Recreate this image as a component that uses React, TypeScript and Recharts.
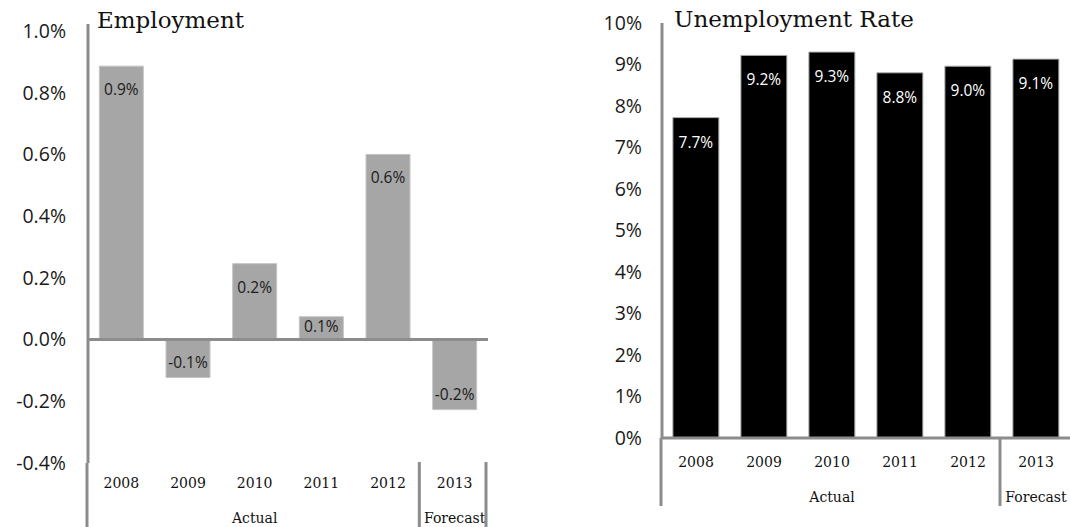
import React from 'react';
import { BarChart, Bar, XAxis, YAxis, ReferenceLine, LabelList } from 'recharts';

const years = ['2008', '2009', '2010', '2011', '2012', '2013'];
const employment = [0.886, -0.123, 0.246, 0.074, 0.6, -0.227];
const unemployment = [7.72, 9.22, 9.3, 8.8, 8.96, 9.13];
const employmentTicks = [-0.4, -0.2, 0, 0.2, 0.4, 0.6, 0.8, 1.0];
const unemploymentTicks = [0, 1, 2, 3, 4, 5, 6, 7, 8, 9, 10];
const groups = [
  { name: 'Actual', from: 0, to: 4 },
  { name: 'Forecast', from: 5, to: 5 },
];

const empData = years.map((year, i) => ({ year, value: employment[i] }));
const unempData = years.map((year, i) => ({ year, value: unemployment[i] }));

const AXIS = '#8c8c8c';
const SANS = '"Open Sans", sans-serif';
const SERIF = '"DejaVu Serif", serif';

// year labels, group labels and the divider lines under the plot
const makeYearTick =
  (band: number, yearDy: number, groupDy: number, lineLen: number, closeLast: boolean) =>
  (props: any) => {
    const { x, y, payload } = props;
    const i = payload.index;
    const parts: React.ReactNode[] = [];
    parts.push(
      <text key="y" x={x} y={y + yearDy} textAnchor="middle" dominantBaseline="central"
        fontFamily={SERIF} fontSize={14} fill="#111">
        {payload.value}
      </text>
    );
    if (i === 0) {
      parts.push(<line key="a" x1={x - band / 2 - 1} x2={x - band / 2 - 1} y1={y} y2={y + lineLen} stroke={AXIS} strokeWidth={3} />);
    }
    groups.forEach((g, gi) => {
      if (i === g.from) {
        const cx = x + ((g.to - g.from) / 2) * band;
        parts.push(
          <text key={'g' + gi} x={cx} y={y + groupDy} textAnchor="middle" dominantBaseline="central"
            fontFamily={SERIF} fontSize={14} fill="#111">
            {g.name}
          </text>
        );
      }
      if (i === g.to && (gi < groups.length - 1 || closeLast)) {
        const lx = x + band / 2 - 2;
        parts.push(<line key={'d' + gi} x1={lx} x2={lx} y1={y - 1} y2={y + lineLen} stroke={AXIS} strokeWidth={3} />);
      }
    });
    return <g>{parts}</g>;
  };

const empLabel = (props: any) => {
  const { x, y, width, height, value } = props;
  const top = Math.min(y, y + height);
  const bottom = Math.max(y, y + height);
  const cy = value >= 0 ? Math.min(top + 23, (top + bottom) / 2 - 2) : bottom - 16;
  return (
    <text x={x + width / 2} y={cy} textAnchor="middle" dominantBaseline="central"
      fontFamily={SANS} fontSize={15.5} fill="#1a1a1a">
      {`${value.toFixed(1)}%`}
    </text>
  );
};

const unempLabel = (props: any) => {
  const { x, y, width, height, value } = props;
  const top = Math.min(y, y + height);
  return (
    <text x={x + width / 2} y={top + 24} textAnchor="middle" dominantBaseline="central"
      fontFamily={SANS} fontSize={15.5} fill="#fff">
      {`${value.toFixed(1)}%`}
    </text>
  );
};

const titleStyle: React.CSSProperties = {
  position: 'absolute',
  fontFamily: SERIF,
  fontSize: 23,
  lineHeight: '23px',
  color: '#111',
  whiteSpace: 'nowrap',
};

export default function App() {
  return (
    <div style={{ position: 'absolute', left: 0, top: 0, width: 1070, height: 527, background: '#fff', overflow: 'hidden' }}>
      {/* Employment */}
      <div style={{ position: 'absolute', left: 0, top: 0 }}>
        <BarChart width={500} height={527} data={empData} barCategoryGap="17%"
          margin={{ top: 24, right: 12, bottom: 0, left: 0 }}>
          <YAxis
            type="number"
            domain={[-0.4, 1.0226]}
            ticks={employmentTicks}
            width={88}
            tickSize={0}
            tickMargin={22}
            axisLine={{ stroke: AXIS, strokeWidth: 3 }}
            tickLine={false}
            tickFormatter={(v: number) => `${v.toFixed(1)}%`}
            tick={{ fontFamily: SANS, fontSize: 19.5, fill: '#1a1a1a' }}
          />
          <XAxis dataKey="year" height={64} axisLine={false} tickLine={false} tickSize={0} tickMargin={0}
            interval={0} tick={makeYearTick(400 / 6, 20, 55, 70, true)} />
          <Bar dataKey="value" fill="#a6a6a6" stroke="#c4c4c4" strokeWidth={1} isAnimationActive={false}>
            <LabelList dataKey="value" content={empLabel} />
          </Bar>
          <ReferenceLine y={0} stroke={AXIS} strokeWidth={3} />
        </BarChart>
        <div style={{ ...titleStyle, left: 97, top: 9 }}>Employment</div>
      </div>

      {/* Unemployment Rate */}
      <div style={{ position: 'absolute', left: 600, top: 0 }}>
        <BarChart width={470} height={527} data={unempData} barCategoryGap="16%"
          margin={{ top: 23, right: 0, bottom: 0, left: 0 }}>
          <YAxis
            type="number"
            domain={[0, 10]}
            ticks={unemploymentTicks}
            width={62}
            tickSize={0}
            tickMargin={20}
            axisLine={{ stroke: AXIS, strokeWidth: 3 }}
            tickLine={false}
            tickFormatter={(v: number) => `${v}%`}
            tick={{ fontFamily: SANS, fontSize: 19.5, fill: '#1a1a1a' }}
          />
          <XAxis dataKey="year" height={89} axisLine={{ stroke: AXIS, strokeWidth: 3 }} tickLine={false}
            tickSize={0} tickMargin={0} interval={0} tick={makeYearTick(408 / 6, 24, 59, 68, false)} />
          <Bar dataKey="value" fill="#000" stroke="#b0b0b0" strokeWidth={1} isAnimationActive={false}>
            <LabelList dataKey="value" content={unempLabel} />
          </Bar>
        </BarChart>
        <div style={{ ...titleStyle, left: 74, top: 8 }}>Unemployment Rate</div>
      </div>
    </div>
  );
}
